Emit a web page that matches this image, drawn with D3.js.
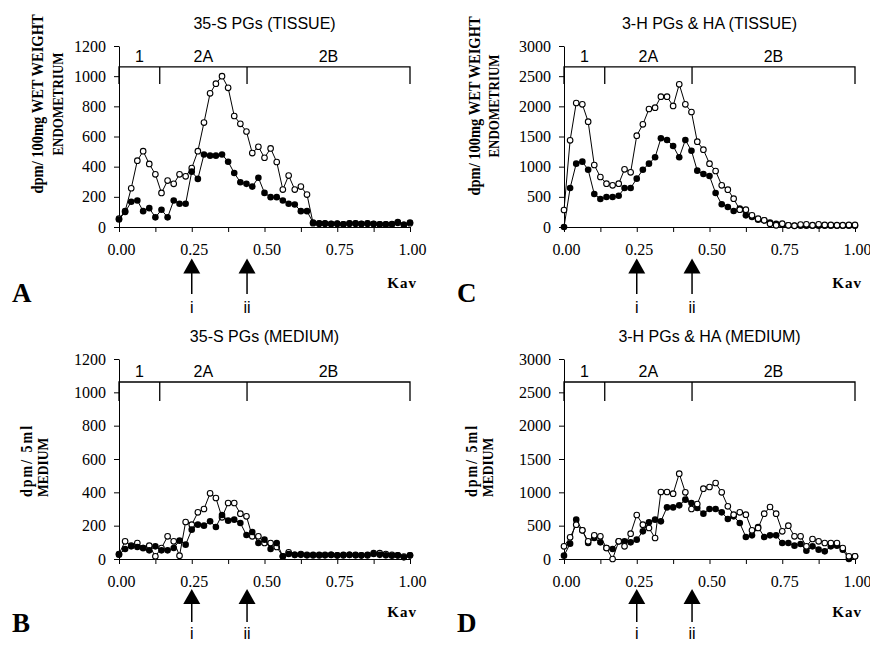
<!DOCTYPE html>
<html lang="en">
<head>
  <meta charset="UTF-8">
  <title>PG elution profiles</title>
  <script src="https://cdn.jsdelivr.net/npm/d3@7/dist/d3.min.js"></script>
  <style>
    body { margin: 0; background: #fff; }
    svg { display: block; }
  </style>
</head>
<body>
  <script>
    // Kav of each collected fraction (same for all four panels)
    const kav = [0.000, 0.021, 0.042, 0.063, 0.083, 0.104, 0.125, 0.146, 0.167, 0.188,
                 0.208, 0.229, 0.250, 0.271, 0.292, 0.313, 0.333, 0.354, 0.375, 0.396,
                 0.417, 0.438, 0.458, 0.479, 0.500, 0.521, 0.542, 0.563, 0.583, 0.604,
                 0.625, 0.646, 0.667, 0.688, 0.708, 0.729, 0.750, 0.771, 0.792, 0.813,
                 0.833, 0.854, 0.875, 0.896, 0.917, 0.938, 0.958, 0.979, 1.000];

    // A: 35-S PGs (tissue)
    const tissueS35Closed = [50, 99, 167, 176, 105, 125, 64, 114, 64, 176,
                             154, 154, 367, 319, 481, 473, 473, 481, 433, 358,
                             297, 286, 268, 327, 226, 198, 198, 176, 154, 149,
                             105, 105, 29, 25, 25, 22, 22, 18, 25, 25,
                             22, 25, 22, 18, 18, 20, 33, 15, 30];
    const tissueS35Open = [55, 105, 257, 440, 503, 418, 349, 226, 308, 286,
                           349, 336, 391, 503, 692, 886, 950, 1000, 923, 736,
                           684, 633, 490, 532, 459, 521, 431, 248, 341, 248,
                           268, 215, 25, 22, 22, 20, 22, 18, 22, 22,
                           20, 22, 20, 18, 18, 18, 28, 15, 25];

    // C: 3-H PGs & HA (tissue)
    const tissueH3Closed = [0, 646, 1050, 1083, 950, 547, 464, 497, 497, 519,
                            646, 646, 801, 950, 1050, 1155, 1470, 1442, 1343, 1155,
                            1442, 1265, 934, 878, 845, 564, 376, 331, 265, 304,
                            193, 166, 122, 110, 72, 55, 40, 30, 25, 20,
                            20, 20, 20, 20, 20, 20, 20, 20, 20];
    const tissueH3Open = [282, 1437, 2055, 2033, 1746, 1028, 829, 718, 691, 718,
                          956, 906, 1514, 1702, 1956, 1978, 2160, 2160, 2006, 2365,
                          2033, 1906, 1414, 1282, 1050, 928, 691, 619, 470, 287,
                          287, 193, 138, 110, 55, 28, 55, 28, 20, 40,
                          45, 30, 45, 35, 35, 30, 30, 35, 35];

    // B: 35-S PGs (medium)
    const mediumS35Closed = [26, 60, 76, 72, 66, 52, 76, 52, 52, 66,
                             110, 86, 176, 206, 200, 226, 192, 264, 230, 236,
                             216, 144, 162, 96, 116, 60, 96, 16, 30, 25,
                             25, 22, 25, 25, 22, 25, 22, 25, 25, 22,
                             22, 25, 30, 25, 22, 20, 22, 10, 22];
    const mediumS35Open = [30, 106, 80, 96, 66, 80, 16, 66, 136, 106,
                           20, 222, 206, 280, 300, 394, 366, 250, 336, 336,
                           272, 256, 136, 136, 96, 96, 72, 16, 40, 25,
                           30, 25, 22, 22, 25, 25, 22, 22, 25, 25,
                           22, 22, 35, 35, 30, 25, 22, 15, 22];

    // D: 3-H PGs & HA (medium)
    const mediumH3Closed = [50, 230, 590, 430, 240, 315, 250, 165, 150, 265,
                            265, 250, 290, 415, 550, 590, 565, 775, 775, 805,
                            890, 840, 765, 680, 750, 750, 700, 600, 640, 540,
                            330, 355, 480, 330, 355, 355, 240, 240, 200, 225,
                            125, 190, 140, 115, 190, 200, 140, 0, 40];
    const mediumH3Open = [190, 325, 515, 430, 265, 355, 340, 165, 0, 265,
                          190, 380, 660, 515, 465, 315, 1005, 1005, 980, 1280,
                          1000, 750, 825, 1055, 1080, 1140, 1000, 790, 665, 700,
                          665, 430, 465, 680, 780, 680, 415, 500, 340, 340,
                          190, 300, 265, 240, 240, 240, 165, 40, 40];

    // peak regions along the top, and the two marker arrows
    const regionBounds = [0, 0.14, 0.44, 1.0];
    const regionLabels = ["1", "2A", "2B"];
    const arrowKav = [0.25, 0.44];
    const arrowLabels = ["i", "ii"];

    // ticks
    const xTicks = [0, 0.125, 0.25, 0.375, 0.5, 0.625, 0.75, 0.875, 1];
    const xTickLabels = ["0.00", "0.25", "0.50", "0.75", "1.00"];
    const yTicksS35 = [0, 200, 400, 600, 800, 1000, 1200];
    const yTicksH3 = [0, 500, 1000, 1500, 2000, 2500, 3000];

    const W = 870, H = 645;
    const svg = d3.select("body").append("svg").attr("width", W).attr("height", H);

    const serif = '"Liberation Serif", "Times New Roman", serif';
    const sans = '"Liberation Sans", Arial, sans-serif';

    // offsets below the x axis for each row of panels
    const rowTop = { tip: 31.5, line: 67, lab: 86, kav: 61, letter: 75 };
    const rowBottom = { tip: 30, line: 63, lab: 80, kav: 58, letter: 73 };

    // y label lines: text, font size, letter spacing
    const labTissue = [["dpm/ 100mg WET WEIGHT", 14.5, 0], ["ENDOMETRIUM", 13, 0]];
    const labMedium = [["dpm/ 5ml", 14, 2], ["MEDIUM", 13.5, 0]];

    const panels = [
      { letter: "A", title: "35-S PGs (TISSUE)", yLab: labTissue,
        closed: tissueS35Closed, open: tissueS35Open, ticks: yTicksS35,
        x0: 119, x1: 410, yTop: 46, yBot: 227, labX: [43, 63], labY: 104, labMid: true, openTop: false, row: rowTop },
      { letter: "C", title: "3-H PGs & HA (TISSUE)", yLab: labTissue,
        closed: tissueH3Closed, open: tissueH3Open, ticks: yTicksH3,
        x0: 564, x1: 855, yTop: 46, yBot: 227, labX: [480, 499], labY: 106, labMid: true, openTop: true, row: rowTop },
      { letter: "B", title: "35-S PGs (MEDIUM)", yLab: labMedium,
        closed: mediumS35Closed, open: mediumS35Open, ticks: yTicksS35,
        x0: 119, x1: 410, yTop: 359, yBot: 559, labX: [32, 48], labY: 497, labMid: false, openTop: false, row: rowBottom },
      { letter: "D", title: "3-H PGs & HA (MEDIUM)", yLab: labMedium,
        closed: mediumH3Closed, open: mediumH3Open, ticks: yTicksH3,
        x0: 564, x1: 855, yTop: 359, yBot: 559, labX: [477, 493], labY: 497, labMid: false, openTop: true, row: rowBottom }
    ];

    panels.forEach(p => {
      const g = svg.append("g");
      const yMax = p.ticks[p.ticks.length - 1];
      const r = p.row;

      const x = d3.scaleLinear().domain([0, 1]).range([p.x0, p.x1]);
      const y = d3.scaleLinear().domain([0, yMax]).range([p.yBot, p.yTop]);

      // y axis
      const yAxis = g.append("g")
        .attr("transform", `translate(${p.x0},0)`)
        .call(d3.axisLeft(y).tickValues(p.ticks).tickSize(5).tickSizeOuter(0).tickPadding(8)
          .tickFormat(d3.format("d")));
      yAxis.selectAll("text").attr("font-family", serif).attr("font-size", 16).attr("fill", "#000");

      // x axis
      const xAxis = g.append("g")
        .attr("transform", `translate(0,${p.yBot})`)
        .call(d3.axisBottom(x).tickValues(xTicks).tickSize(5).tickSizeOuter(0).tickPadding(12)
          .tickFormat((d, i) => i % 2 === 0 ? xTickLabels[i / 2] : ""));
      xAxis.selectAll("text").attr("font-family", serif).attr("font-size", 16).attr("fill", "#000").attr("dx", 2);
      g.selectAll(".domain, .tick line").attr("stroke", "#000");

      // title
      g.append("text")
        .attr("x", (p.x0 + p.x1) / 2).attr("y", p.yTop - 17)
        .attr("text-anchor", "middle").attr("font-family", sans).attr("font-size", 16)
        .text(p.title);

      // region bracket
      const yLine = y(yMax * 0.885), yDrop = y(yMax * 0.79);
      const bx = regionBounds.map(x);
      g.append("path")
        .attr("d", `M${bx[0]},${yDrop}V${yLine}H${bx[3]}V${yDrop}M${bx[1]},${yLine}V${yDrop}M${bx[2]},${yLine}V${yDrop}`)
        .attr("fill", "none").attr("stroke", "#000").attr("stroke-width", 1.3);
      g.selectAll(".region").data(regionLabels).enter().append("text")
        .attr("x", (d, i) => (bx[i] + bx[i + 1]) / 2)
        .attr("y", yLine - 5)
        .attr("text-anchor", "middle").attr("font-family", sans).attr("font-size", 16)
        .text(d => d);

      // y label, rotated
      p.yLab.forEach((l, i) => {
        g.append("text")
          .attr("transform", `translate(${p.labX[i]},${p.labY}) scale(1.15,1) rotate(-90)`)
          .attr("text-anchor", p.labMid ? "middle" : "start")
          .attr("font-family", serif).attr("font-weight", "bold")
          .attr("font-size", l[1]).attr("letter-spacing", l[2])
          .text(l[0]);
      });

      // Kav label and panel letter
      g.append("text")
        .attr("x", p.x1 + 7).attr("y", p.yBot + r.kav)
        .attr("text-anchor", "end").attr("font-family", serif).attr("font-weight", "bold")
        .attr("font-size", 15).attr("letter-spacing", 1)
        .text("Kav");
      g.append("text")
        .attr("x", p.x0 - 107).attr("y", p.yBot + r.letter)
        .attr("font-family", serif).attr("font-weight", "bold").attr("font-size", 27)
        .text(p.letter);

      // arrows i / ii
      const arrows = g.selectAll(".arrow").data(arrowKav).enter().append("g");
      arrows.append("path")
        .attr("d", d => `M${x(d)},${p.yBot + r.tip}L${x(d) + 8.5},${p.yBot + r.tip + 15}L${x(d) - 8.5},${p.yBot + r.tip + 15}Z`)
        .attr("fill", "#000");
      arrows.append("line")
        .attr("x1", d => x(d)).attr("x2", d => x(d))
        .attr("y1", p.yBot + r.tip + 14).attr("y2", p.yBot + r.line)
        .attr("stroke", "#000").attr("stroke-width", 1.5);
      arrows.append("text")
        .attr("x", d => x(d)).attr("y", p.yBot + r.lab)
        .attr("text-anchor", "middle").attr("font-family", sans).attr("font-size", 16)
        .text((d, i) => arrowLabels[i]);

      // series
      const line = d3.line().x((d, i) => x(kav[i])).y(d => y(d));
      const drawOpen = () => {
        g.append("path").datum(p.open).attr("d", line)
          .attr("fill", "none").attr("stroke", "#000").attr("stroke-width", 1);
        g.selectAll(null).data(p.open).enter().append("circle")
          .attr("cx", (d, i) => x(kav[i])).attr("cy", d => y(d)).attr("r", 2.8)
          .attr("fill", "#fff").attr("stroke", "#000").attr("stroke-width", 1.1);
      };
      const drawClosed = () => {
        g.append("path").datum(p.closed).attr("d", line)
          .attr("fill", "none").attr("stroke", "#000").attr("stroke-width", 1);
        g.selectAll(null).data(p.closed).enter().append("circle")
          .attr("cx", (d, i) => x(kav[i])).attr("cy", d => y(d)).attr("r", 3.3)
          .attr("fill", "#000");
      };
      if (p.openTop) { drawClosed(); drawOpen(); } else { drawOpen(); drawClosed(); }
    });
  </script>
</body>
</html>
